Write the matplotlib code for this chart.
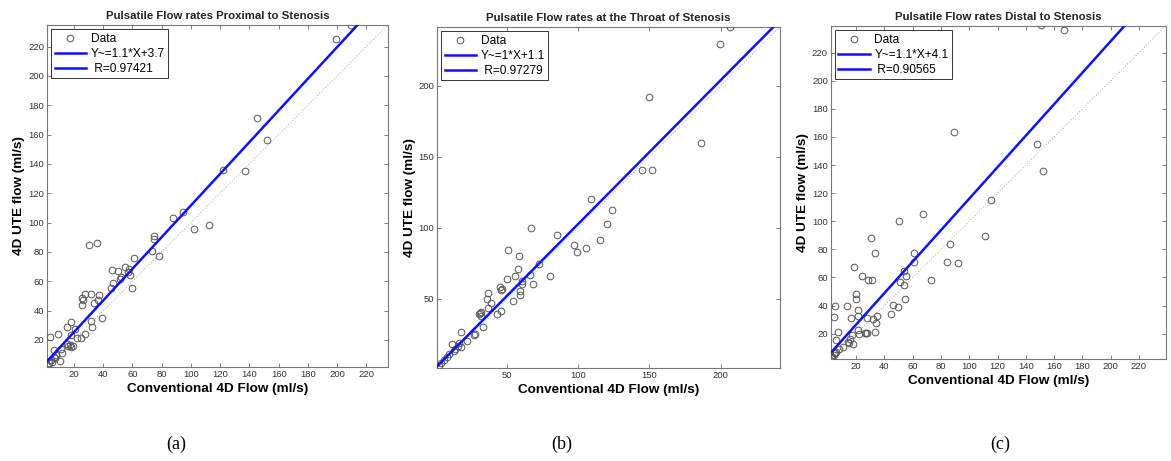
import numpy as np
import matplotlib
matplotlib.use('Agg')
import matplotlib.pyplot as plt

plt.rcParams['font.family'] = ['Liberation Sans', 'DejaVu Sans']

# Proximal to stenosis (a)
prox_x = [209.3, 199, 145.4, 152.2, 121.9, 136.7, 87.8, 94.6, 101.9, 112.2, 30, 35.5,
          74.8, 74.8, 73.2, 78.2, 61.2, 45.9, 49.8, 55, 57.8, 57.1, 58.2, 52.3, 51.5,
          46.6, 45.3, 59.4, 27.5, 31.6, 37.3, 25.2, 26.1, 25.2, 33.9, 36.1, 39.3, 31.4,
          32.5, 18, 15, 20.9, 3.6, 9.1, 17.7, 27.3, 22.3, 24.5, 16, 17, 18, 15.5, 19,
          6.3, 10.9, 10.4, 8, 6, 4.5, 3, 2.3, 5, 7, 12]
prox_y = [234.5, 225.2, 171.2, 156, 136, 135.2, 103.4, 107, 95.7, 98.6, 84.8, 86,
          90.7, 88.9, 80.7, 77.3, 75.5, 67.3, 66.9, 70, 68.5, 66.3, 64.4, 62.8, 61.2,
          58.5, 55.1, 55.6, 51.2, 51, 50.8, 48.8, 47, 44, 45.4, 47.2, 35.2, 32.9,
          28.6, 32.2, 29, 27.2, 22.2, 24, 23.4, 24, 21.1, 21.5, 15.5, 16.5, 15, 17, 16,
          13.1, 13.6, 5.6, 10, 8, 6, 4, 2.5, 5, 7.5, 11]

# Throat of stenosis (b)
throat_x = [206.2, 199.2, 149.9, 185.9, 144.6, 151.8, 109, 124, 120, 115.3, 67.2, 85,
            97.1, 99.2, 105.8, 50.7, 58.8, 58.1, 72.6, 55.8, 50.4, 66.1, 80.5, 60.5,
            60.7, 68.6, 59.3, 59.5, 54.2, 45.5, 46.5, 46, 37.3, 36.4, 39.4, 36.9, 46.4,
            43, 31, 32, 31.5, 32, 33.6, 28.2, 27.5, 17.9, 22.6, 16, 17, 18, 12, 14,
            13, 10, 8, 6, 4, 2.5]
throat_y = [241.8, 229.2, 192.4, 159.8, 140.6, 140.9, 120.5, 112.3, 102.5, 91.5, 100,
            95, 88.3, 82.9, 85.7, 84.3, 80.1, 71, 74.5, 65.9, 64.2, 66.8, 65.9, 62.8,
            60.5, 60.5, 55.8, 52.8, 48.6, 58.5, 57, 56, 54, 50, 47.2, 43.4, 41.6, 39.5,
            39, 41, 40, 38, 30.1, 25.2, 24.5, 26.6, 20.3, 17, 19, 16, 18.5, 15, 13, 11,
            9, 7, 5, 2.5]

# Distal to stenosis (c)
dist_x = [150.5, 167, 88.9, 148.2, 152.2, 115.7, 111, 67, 50.1, 30.6, 33.4, 86.3, 84,
          92, 73.1, 60.9, 61.1, 53.8, 55.3, 51, 54.1, 54.5, 49.4, 46.3, 44.7, 18.8, 24,
          28.2, 31.5, 20, 20, 13.6, 5.2, 4, 21.2, 21.6, 16.4, 27.9, 34.6, 31.8, 33.9,
          33.2, 26, 28, 27, 21.6, 22, 7.5, 5.6, 17, 16, 15, 17.5, 14, 11, 8, 6, 4, 3,
          2.5, 5]
dist_y = [239.5, 236.1, 163.4, 154.9, 136.1, 114.8, 89.6, 105, 100, 88.2, 77.5, 83.9,
          71, 70.1, 58.2, 77.5, 71.1, 64.9, 61.1, 56.5, 54.9, 44.4, 38.7, 40.4, 34.2,
          67.7, 61.1, 58.2, 58.4, 48.5, 44.4, 39.7, 39.7, 31.9, 36.8, 32.8, 31.1, 30.9,
          32.8, 30.4, 27.6, 21.2, 20.5, 20.5, 20.8, 22.8, 19.6, 21.4, 15.2, 19, 16,
          13.5, 12.5, 14, 10.5, 9, 7, 5, 3.5, 2.5, 6]

titles = ['Pulsatile Flow rates Proximal to Stenosis',
          'Pulsatile Flow rates at the Throat of Stenosis',
          'Pulsatile Flow rates Distal to Stenosis']
fit_labels = ['Y~=1.1*X+3.7', 'Y~=1*X+1.1', 'Y~=1.1*X+4.1']
r_labels = [' R=0.97421', ' R=0.97279', ' R=0.90565']
slopes = [1.08, 1.015, 1.12]
intercepts = [3.7, 1.1, 4.1]
limits = [(1.5, 234.7), (1.3, 241.5), (2.0, 239.0)]
xticks = [np.arange(20, 221, 20), np.arange(50, 201, 50), np.arange(20, 221, 20)]
panel_tags = ['(a)', '(b)', '(c)']
tag_x = [176, 562, 1000]

xs = [prox_x, throat_x, dist_x]
ys = [prox_y, throat_y, dist_y]

fig = plt.figure(figsize=(11.71, 4.61), dpi=100)
boxes = [[0.0401, 0.2039, 0.2912, 0.7419],
         [0.3732, 0.2017, 0.2929, 0.7397],
         [0.7094, 0.2213, 0.2861, 0.7223]]

for i in range(3):
    ax = fig.add_axes(boxes[i])
    lo, hi = limits[i]
    ax.plot(xs[i], ys[i], 'o', mfc='none', mec='#555555', ms=4.8, mew=0.7,
            label='Data', zorder=3)
    xx = np.array([lo, hi])
    ax.plot(xx, slopes[i] * xx + intercepts[i], color='#1010ff', lw=1.8,
            label=fit_labels[i], zorder=4)
    ax.plot([], [], color='#1010ff', lw=1.8, label=r_labels[i])
    ax.plot(xx, xx, ':', color='#bbbbbb', lw=0.8, zorder=2)
    ax.set_xlim(lo, hi)
    ax.set_ylim(lo, hi)
    ax.set_xticks(xticks[i])
    ax.set_yticks(xticks[i])
    ax.tick_params(direction='in', top=True, right=True, length=3, width=0.6,
                   labelsize=6.8, labelcolor='#333333', color='#666666', pad=2)
    for s in ax.spines.values():
        s.set_color('#777777')
        s.set_linewidth(0.8)
    ax.set_title(titles[i], fontsize=8.2, fontweight='bold', color='#222222', pad=4)
    ax.set_xlabel('Conventional 4D Flow (ml/s)', fontsize=9.7, fontweight='bold', labelpad=3)
    ax.set_ylabel('4D UTE flow (ml/s)', fontsize=9.7, fontweight='bold', labelpad=2)
    leg = ax.legend(loc='upper left', fontsize=8.6, fancybox=False, framealpha=1,
                    edgecolor='#333333', borderpad=0.3, handlelength=2.6,
                    handletextpad=0.4, labelspacing=0.25, borderaxespad=0.35)
    leg.get_frame().set_linewidth(0.7)
    fig.text(tag_x[i] / 1171, 0.037, panel_tags[i], fontsize=13,
             family=['Liberation Serif', 'DejaVu Serif'], ha='center', va='center')

fig.savefig('out.png', dpi=100)
